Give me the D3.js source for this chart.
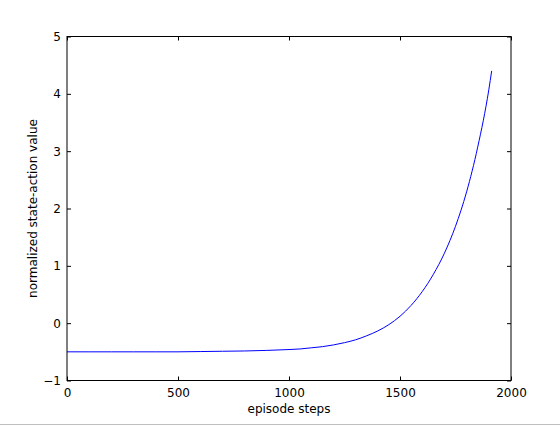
<!DOCTYPE html>
<html>
<head>
<meta charset="utf-8">
<script src="https://cdn.jsdelivr.net/npm/d3@7"></script>
<style>
  body { margin: 0; background: #fff; }
  svg { display: block; font-family: "DejaVu Sans", sans-serif; }
</style>
</head>
<body>
<svg id="chart" width="560" height="425"></svg>
<script>
"use strict";
// values
const steps = [0, 100, 200, 300, 400, 500, 600, 700, 800, 900, 1000, 1050, 1100, 1150,
  1200, 1250, 1300, 1350, 1400, 1450, 1500, 1550, 1600, 1650, 1700, 1750, 1800, 1850,
  1900, 1913];
const values = [-0.50, -0.50, -0.50, -0.50, -0.50, -0.50, -0.495, -0.49, -0.485, -0.475,
  -0.46, -0.45, -0.43, -0.41, -0.38, -0.34, -0.29, -0.22, -0.135, -0.025, 0.12, 0.31,
  0.55, 0.85, 1.22, 1.69, 2.29, 3.07, 4.07, 4.40];
const xTicks = [0, 500, 1000, 1500, 2000];
const yTicks = [-1, 0, 1, 2, 3, 4, 5];

(function () {
  const svg = d3.select("#chart");
  const margin = { left: 67, right: 49, top: 36.5, bottom: 44.5 };
  const width = 560, height = 425;
  const x = d3.scaleLinear().domain([0, 2000]).range([margin.left, width - margin.right]);
  const y = d3.scaleLinear().domain([-1, 5]).range([height - margin.bottom, margin.top]);
  const fmt = (d) => (d < 0 ? "\u2212" + Math.abs(d) : String(d));

  const data = steps.map((s, i) => [s, values[i]]);

  svg.append("path")
    .datum(data)
    .attr("fill", "none")
    .attr("stroke", "#0000ff")
    .attr("stroke-width", 1)
    .attr("d", d3.line().x((d) => x(d[0])).y((d) => y(d[1])).curve(d3.curveMonotoneX));

  // axes with inward ticks on all four sides
  const tick = 4;
  svg.append("g")
    .attr("transform", `translate(0,${y(-1)})`)
    .call(d3.axisBottom(x).tickValues(xTicks).tickSize(-tick).tickPadding(8).tickFormat(fmt));
  svg.append("g")
    .attr("transform", `translate(0,${y(5)})`)
    .call(d3.axisTop(x).tickValues(xTicks).tickSize(-tick).tickFormat(""));
  svg.append("g")
    .attr("transform", `translate(${x(0)},0)`)
    .call(d3.axisLeft(y).tickValues(yTicks).tickSize(-tick).tickPadding(6).tickFormat(fmt));
  svg.append("g")
    .attr("transform", `translate(${x(2000)},0)`)
    .call(d3.axisRight(y).tickValues(yTicks).tickSize(-tick).tickFormat(""));

  svg.selectAll(".domain").remove();
  svg.selectAll(".tick line").attr("stroke", "#000");
  svg.selectAll(".tick text").attr("fill", "#000").attr("font-size", 12)
    .attr("font-family", "DejaVu Sans, sans-serif");

  svg.append("rect")
    .attr("x", x(0)).attr("y", y(5))
    .attr("width", x(2000) - x(0)).attr("height", y(-1) - y(5))
    .attr("fill", "none").attr("stroke", "#000").attr("stroke-width", 1);

  svg.append("text")
    .attr("x", (x(0) + x(2000)) / 2).attr("y", 413)
    .attr("text-anchor", "middle").attr("font-size", 12)
    .text("episode steps");
  svg.append("text")
    .attr("transform", `translate(37,${(y(-1) + y(5)) / 2}) rotate(-90)`)
    .attr("text-anchor", "middle").attr("font-size", 12)
    .text("normalized state-action value");

  svg.append("line")
    .attr("x1", 0).attr("x2", width).attr("y1", 424.5).attr("y2", 424.5)
    .attr("stroke", "#bfbfbf");
})();
</script>
</body>
</html>
